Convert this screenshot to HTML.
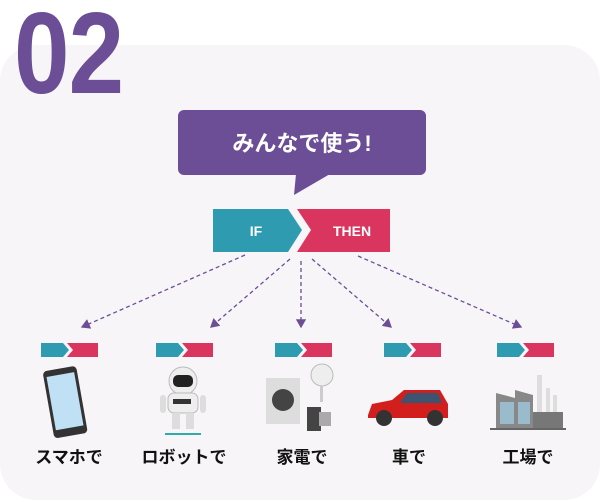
<!DOCTYPE html>
<html><head><meta charset="utf-8"><style>
body{margin:0;width:600px;height:502px;background:#fff;position:relative;overflow:hidden;font-family:"Liberation Sans","Noto Sans CJK JP",sans-serif}
.card{position:absolute;left:0;top:45px;width:600px;height:455px;background:#f8f5f8;border-radius:36px}
.num{position:absolute;left:14px;top:-14px;font-size:116px;font-weight:bold;color:#6b4e96;font-family:"Liberation Sans",sans-serif;letter-spacing:-1px;transform:scaleX(0.86);transform-origin:left}
.lbl{position:absolute;top:443px;font-size:17px;color:#111;font-weight:bold;text-align:center;width:100px}
</style></head><body>
<div class="card"></div>
<div class="num">02</div>
<svg width="600" height="502" style="position:absolute;left:0;top:0">
<defs><marker id="a" markerWidth="8" markerHeight="8" refX="6" refY="4" orient="auto"><path d="M0,0 L7,4 L0,8 z" fill="#6b4e96"/></marker>
<g id="mini"><path d="M0,0H22L28,7L22,14H0z" fill="#2f9bb0"/><path d="M26,0H57V14H26L32,7z" fill="#d9355e"/></g></defs>
<rect x="178" y="110" width="248" height="65" rx="6" fill="#6b4e96"/>
<path d="M296,174 L330,174 L294,195z" fill="#6b4e96"/>
<text x="302" y="151" fill="#fff" font-size="22" font-weight="bold" text-anchor="middle" font-family="Liberation Sans,Noto Sans CJK JP,sans-serif">みんなで使う!</text>
<path d="M213,209H288L302,230L288,252H213z" fill="#2f9bb0"/>
<path d="M297,209H390V252H297L311,230z" fill="#d9355e"/>
<text x="256" y="236" fill="#fff" font-size="14" font-weight="bold" text-anchor="middle">IF</text>
<text x="352" y="236" fill="#fff" font-size="14" font-weight="bold" text-anchor="middle">THEN</text>
<g stroke="#6b4e96" stroke-width="1.3" stroke-dasharray="4,3" fill="none" marker-end="url(#a)">
<line x1="245" y1="255" x2="82" y2="327"/>
<line x1="290" y1="259" x2="211" y2="327"/>
<line x1="301" y1="261" x2="301" y2="327"/>
<line x1="312" y1="259" x2="391" y2="327"/>
<line x1="358" y1="256" x2="521" y2="327"/>
</g>
<use href="#mini" x="41" y="343"/><use href="#mini" x="156" y="343"/><use href="#mini" x="275" y="343"/><use href="#mini" x="384" y="343"/><use href="#mini" x="497" y="343"/>
<g transform="rotate(-10 66 401)"><rect x="48" y="368" width="34" height="68" rx="4" fill="#333"/><rect x="51" y="374" width="28" height="54" fill="#bfe0f5"/></g>
<circle cx="183" cy="381" r="14" fill="#eee" stroke="#bbb"/><rect x="173" y="375" width="20" height="12" rx="5" fill="#222"/>
<rect x="168" y="393" width="30" height="20" rx="6" fill="#eee" stroke="#bbb"/><rect x="173" y="399" width="18" height="5" fill="#333"/>
<rect x="160" y="395" width="6" height="18" rx="3" fill="#ddd"/><rect x="200" y="395" width="6" height="18" rx="3" fill="#ddd"/>
<rect x="172" y="413" width="8" height="16" fill="#ddd"/><rect x="186" y="413" width="8" height="16" fill="#ddd"/>
<rect x="165" y="433" width="36" height="2" fill="#3aa"/>
<rect x="266" y="378" width="34" height="46" fill="#ddd"/><circle cx="283" cy="400" r="11" fill="#444"/>
<circle cx="322" cy="375" r="11" fill="#eee" stroke="#bbb"/><rect x="320" y="386" width="3" height="16" fill="#ccc"/>
<rect x="307" y="407" width="14" height="24" fill="#444"/><rect x="319" y="412" width="12" height="14" fill="#aaa"/>
<path d="M368,415 L372,404 L392,400 L404,390 L440,390 L448,404 L448,418 L368,418z" fill="#d31e1e"/>
<path d="M407,393 L438,393 L442,403 L400,403z" fill="#3c5470"/>
<circle cx="384" cy="418" r="8" fill="#333"/><circle cx="435" cy="418" r="8" fill="#333"/>
<path d="M496,428V393L515,398V390L533,395V428z" fill="#888"/>
<rect x="500" y="402" width="14" height="22" fill="#9bc"/><rect x="518" y="402" width="12" height="22" fill="#9bc"/>
<rect x="537" y="375" width="5" height="53" fill="#ddd"/><rect x="546" y="388" width="4" height="40" fill="#ddd"/><rect x="553" y="395" width="4" height="33" fill="#ddd"/>
<rect x="533" y="412" width="30" height="16" fill="#777"/><rect x="490" y="428" width="76" height="2" fill="#666"/>
</svg>
<div class="lbl" style="left:19px">スマホで</div>
<div class="lbl" style="left:134px">ロボットで</div>
<div class="lbl" style="left:252px">家電で</div>
<div class="lbl" style="left:359px">車で</div>
<div class="lbl" style="left:478px">工場で</div>
</body></html>
